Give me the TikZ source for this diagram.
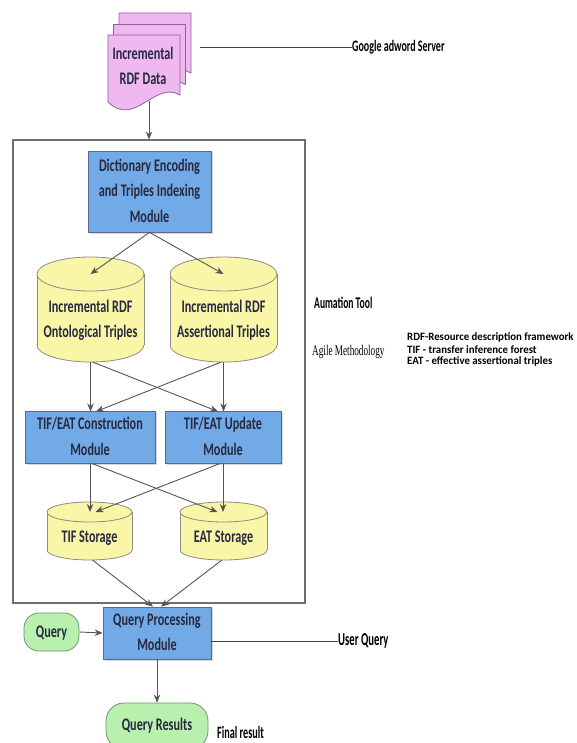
\documentclass[tikz,border=0pt]{standalone}
\usepackage{fontspec}
\setmainfont{Carlito}
\newfontfamily\tnr{Liberation Serif}
\usepackage{graphicx}
\usetikzlibrary{arrows.meta,shadows}
\definecolor{bluefill}{RGB}{114,170,232}
\definecolor{blueborder}{RGB}{84,108,146}
\definecolor{cylfill}{RGB}{250,246,168}
\definecolor{cylborder}{RGB}{140,140,130}
\definecolor{pinkfill}{RGB}{240,184,240}
\definecolor{pinkborder}{RGB}{140,100,150}
\definecolor{greenfill}{RGB}{184,240,174}
\definecolor{greenborder}{RGB}{110,150,110}
\definecolor{txt}{RGB}{40,40,62}
\definecolor{arrgray}{RGB}{85,85,85}
\definecolor{framegray}{RGB}{110,110,110}
\newcommand{\nt}[1]{\scalebox{1}[1.45]{\renewcommand{\arraystretch}{1.21}\begin{tabular}{@{}c@{}}#1\end{tabular}}}
\newcommand{\cylshape}[6]{%
  \draw[cylline, fill=cylfill] (#2,#5) ellipse [x radius=#3, y radius=#6];
  \fill[cylfill] ({#2-#3},#4) rectangle ({#2+#3},#5);
  \draw[cylline] ({#2-#3},#4) -- ({#2-#3},#5) ({#2+#3},#4) -- ({#2+#3},#5);
  \draw[cylline, fill=cylfill] (#2,#4) ellipse [x radius=#3, y radius=#6];
  \coordinate (#1-top) at (#2,#4);
  \coordinate (#1-bot) at (#2,{#5+#6});
}
\tikzset{
  nodefont/.style={font=\fontsize{12.2}{14.6}\selectfont\bfseries, text=txt},
  bluebox/.style={nodefont, draw=blueborder, fill=bluefill, line width=0.8pt, inner sep=0pt,
    drop shadow={shadow xshift=1.5pt, shadow yshift=-1.5pt, opacity=0.3}},
  greenbox/.style={nodefont, draw=greenborder, fill=greenfill, line width=0.8pt, inner sep=0pt,
    rounded corners=15pt},
  cylline/.style={draw=cylborder, line width=0.8pt},
  docpage/.style={draw=pinkborder, fill=pinkfill, line width=0.8pt},
  cyltext/.style={nodefont, inner sep=0pt},
  arr/.style={draw=arrgray, line width=0.9pt, -{Stealth[length=8pt,width=6.5pt]}},
  plainline/.style={draw=black!75, line width=0.9pt},
  frame/.style={draw=framegray, line width=1.1pt, inner sep=0pt},
  annot/.style={font=\fontsize{10}{12}\selectfont\bfseries, text=black, inner sep=0pt, anchor=west},
}
\begin{document}
\begin{tikzpicture}[x=1pt,y=-1pt]
\useasboundingbox (0,0) rectangle (576,743);
\fill[white] (0,0) rectangle (576,743);

% outer frame
\node[frame, minimum width=292pt, minimum height=463pt] (frame) at (159,371.5) {};

% stacked document
\foreach \dx/\dy in {11/-22, 5.5/-10.5, 0/0}{
  \draw[docpage, shift={(\dx,\dy)}] (108,35) -- (180,35) -- (180,95)
     .. controls (155,80) and (135,128) .. (108,102) -- cycle;
}
\node[nodefont, inner sep=0pt] (rdf) at (143,67) {\nt{Incremental\\RDF Data}};
\coordinate (rdfbot) at (149,101);
\coordinate (gline) at (200,47);
\node[annot] (google) at (352,47) {\scalebox{1}[1.6]{Google adword Server}};

% dictionary module
\node[bluebox, minimum width=123pt, minimum height=81pt] (dict) at (149.5,191.5)
  {\nt{Dictionary Encoding\\and Triples Indexing\\Module}};

% upper cylinders
\cylshape{ont}{90.5}{53.5}{274}{345}{17}
\cylshape{asr}{223.5}{53.5}{274}{345}{17}
\node[cyltext] (ontt) at (90.5,320) {\nt{Incremental RDF\\Ontological Triples}};
\node[cyltext] (asrt) at (223.5,320) {\nt{Incremental RDF\\Assertional Triples}};

% module boxes
\node[bluebox, minimum width=130pt, minimum height=51pt] (cons) at (90,437.5)
  {\nt{TIF/EAT Construction\\Module}};
\node[bluebox, minimum width=116pt, minimum height=51pt] (upd) at (223,437.5)
  {\nt{TIF/EAT Update\\Module}};

% storage cylinders
\cylshape{tifs}{89.5}{42.5}{512}{550}{10}
\cylshape{eats}{223.5}{43.5}{512}{550}{10}
\node[cyltext] (tifst) at (89.5,537) {\nt{TIF Storage}};
\node[cyltext] (eatst) at (223.5,537) {\nt{EAT Storage}};

% query part
\node[bluebox, minimum width=108pt, minimum height=52pt] (qpm) at (157,633)
  {\nt{Query Processing\\Module}};
\node[greenbox, minimum width=55pt, minimum height=38pt] (query) at (51.5,632) {\nt{Query}};
\node[greenbox, rounded corners=18pt, minimum width=102pt, minimum height=46pt] (qr) at (157,726)
  {\scalebox{1}[1.45]{Query Results}};

% side annotations
\node[annot, font=\fontsize{9.6}{12}\selectfont\bfseries] (auto) at (314,303) {\scalebox{1}[1.7]{Aumation Tool}};
\node[annot, font=\fontsize{9.2}{12}\selectfont\tnr] (agile) at (312,352) {\scalebox{1}[1.6]{Agile Methodology}};
\node[annot] (leg1) at (407,337.5) {\scalebox{1.08}[1.12]{RDF-Resource description framework}};
\node[annot] (leg2) at (407,349.5) {\scalebox{1.08}[1.12]{TIF - transfer inference forest}};
\node[annot] (leg3) at (407,361.5) {\scalebox{1.08}[1.12]{EAT - effective assertional triples}};
\node[annot, font=\fontsize{10.7}{12}\selectfont\bfseries] (uq) at (338,641) {\scalebox{1}[1.7]{User Query}};
\node[annot, font=\fontsize{10.2}{12}\selectfont\bfseries] (fr) at (217,732) {\scalebox{1}[1.7]{Final result}};

% connectors
\draw[arr] (rdfbot) -- (rdfbot |- frame.north);
\draw[plainline] (gline) -- (google.west);
\draw[arr] (dict.south) -- (ont-top);
\draw[arr] (dict.south) -- (asr-top);
\draw[arr] (ont-bot) -- (ont-bot |- cons.north);
\draw[arr] ([xshift=2pt]ont-bot) -- ([xshift=-5pt]upd.north);
\draw[arr] (asr-bot) -- (asr-bot |- upd.north);
\draw[arr] ([xshift=-2pt]asr-bot) -- ([xshift=6pt]cons.north);
\draw[arr] (cons.south) -- (cons.south |- tifs-top);
\draw[arr] ([xshift=2pt]cons.south) -- ([xshift=-6pt]eats-top);
\draw[arr] (upd.south) -- (upd.south |- eats-top);
\draw[arr] ([xshift=-3pt]upd.south) -- ([xshift=6pt]tifs-top);
\draw[arr] ([xshift=3pt]tifs-bot) -- ([xshift=-4pt]qpm.north);
\draw[arr] ([xshift=-1.5pt]eats-bot) -- ([xshift=4pt]qpm.north);
\draw[arr] (query.east) -- (qpm.west);
\draw[arr] (qpm.south) -- (qr.north);
\draw[plainline] ([yshift=-8pt]qpm.east) -- (uq.west);
\end{tikzpicture}
\end{document}
